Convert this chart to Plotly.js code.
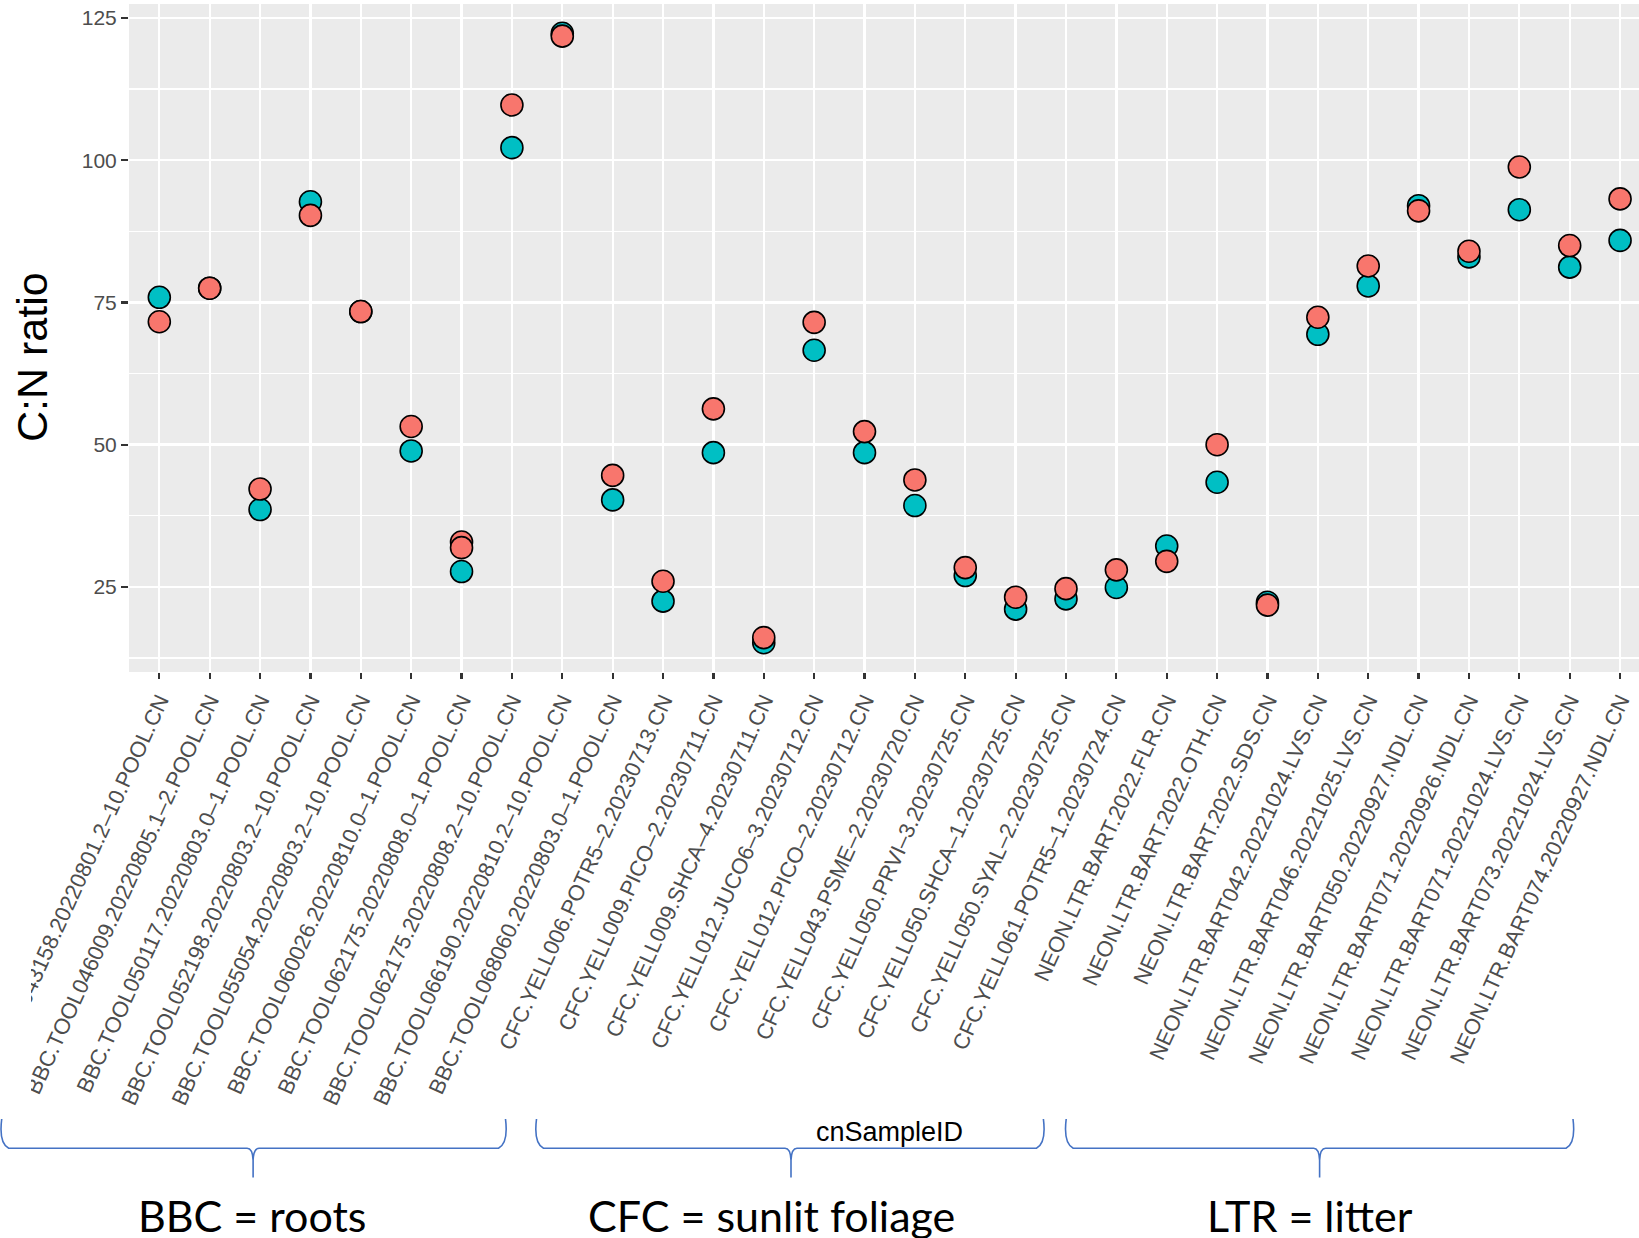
<!DOCTYPE html>
<html>
<head>
<meta charset="utf-8">
<script src="https://cdn.plot.ly/plotly-3.0.1.min.js"></script>
<style>
  html, body { margin: 0; padding: 0; background: #ffffff; }
  #chart { width: 1639px; height: 1238px; }
</style>
</head>
<body>
<div id="chart"></div>
<script>
// ---------- data ----------
const categories = [
  "BBC.TOOL043158.20220801.2–10.POOL.CN",
  "BBC.TOOL046009.20220805.1–2.POOL.CN",
  "BBC.TOOL050117.20220803.0–1.POOL.CN",
  "BBC.TOOL052198.20220803.2–10.POOL.CN",
  "BBC.TOOL055054.20220803.2–10.POOL.CN",
  "BBC.TOOL060026.20220810.0–1.POOL.CN",
  "BBC.TOOL062175.20220808.0–1.POOL.CN",
  "BBC.TOOL062175.20220808.2–10.POOL.CN",
  "BBC.TOOL066190.20220810.2–10.POOL.CN",
  "BBC.TOOL068060.20220803.0–1.POOL.CN",
  "CFC.YELL006.POTR5–2.20230713.CN",
  "CFC.YELL009.PICO–2.20230711.CN",
  "CFC.YELL009.SHCA–4.20230711.CN",
  "CFC.YELL012.JUCO6–3.20230712.CN",
  "CFC.YELL012.PICO–2.20230712.CN",
  "CFC.YELL043.PSME–2.20230720.CN",
  "CFC.YELL050.PRVI–3.20230725.CN",
  "CFC.YELL050.SHCA–1.20230725.CN",
  "CFC.YELL050.SYAL–2.20230725.CN",
  "CFC.YELL061.POTR5–1.20230724.CN",
  "NEON.LTR.BART.2022.FLR.CN",
  "NEON.LTR.BART.2022.OTH.CN",
  "NEON.LTR.BART.2022.SDS.CN",
  "NEON.LTR.BART042.20221024.LVS.CN",
  "NEON.LTR.BART046.20221025.LVS.CN",
  "NEON.LTR.BART050.20220927.NDL.CN",
  "NEON.LTR.BART071.20220926.NDL.CN",
  "NEON.LTR.BART071.20221024.LVS.CN",
  "NEON.LTR.BART073.20221024.LVS.CN",
  "NEON.LTR.BART074.20220927.NDL.CN"
];

const tealValues = [
  75.9, 77.5, 38.6, 92.7, 73.4, 48.9, 27.7, 102.2, 122.3, 40.3,
  22.5, 48.6, 15.2, 66.6, 48.6, 39.3, 27.0, 21.1, 22.9, 24.9,
  32.2, 43.4, 22.3, 69.4, 77.9, 92.0, 83.0, 91.3, 81.2, 85.9
];

const salmonValues = [
  71.6, 77.5, 42.2, 90.3, 73.4, 53.2, 31.9, 109.7, 121.8, 44.6,
  26.0, 56.3, 16.1, 71.5, 52.3, 43.8, 28.4, 23.2, 24.7, 28.0,
  29.5, 50.0, 21.8, 72.4, 81.4, 91.1, 84.0, 98.8, 85.0, 93.2
];

// a second salmon reading for one sample
const salmonExtraCats = ["BBC.TOOL062175.20220808.0–1.POOL.CN"];
const salmonExtraValues = [32.9];

const yTicks = [25, 50, 75, 100, 125];

const groupLabels = ["BBC = roots", "CFC = sunlit foliage", "LTR = litter"];

// ---------- geometry helpers (pixel -> paper) ----------
const L = 129, T = 4, W = 1510, H = 668;
const fx = px => (px - L) / W;
const fy = py => (T + H - py) / H;
const pt = (x, y) => fx(x).toFixed(5) + "," + fy(y).toFixed(5);

function bracePath(x0, x1, xc, yTop, yH, yTip) {
  const r = 7;
  return "M" + pt(x0, yTop) +
    " C" + pt(x0 - 1.5, yTop + 12) + " " + pt(x0 - 1, yH - 4) + " " + pt(x0 + r, yH) +
    " L" + pt(xc - 6, yH) +
    " Q" + pt(xc - 0.5, yH) + " " + pt(xc, yH + 12) +
    " L" + pt(xc, yTip) +
    " M" + pt(xc, yH + 12) +
    " Q" + pt(xc + 0.5, yH) + " " + pt(xc + 6, yH) +
    " L" + pt(x1 - r, yH) +
    " C" + pt(x1 + 1, yH - 4) + " " + pt(x1 + 1.5, yTop + 12) + " " + pt(x1, yTop);
}

const braceColor = "#4472C4";
const braces = [
  [1.7, 505.5, 253.1],
  [536.5, 1043.4, 791.0],
  [1066.2, 1573.0, 1319.6]
];
const groupCenters = [252.2, 771.4, 1309.5];

const shapes = braces.map(b => ({
  type: "path", xref: "paper", yref: "paper", layer: "above",
  path: bracePath(b[0], b[1], b[2], 1119, 1148.2, 1177.5),
  line: { color: braceColor, width: 1.6 }
}));
// left crop of the original figure
shapes.push({
  type: "rect", xref: "paper", yref: "paper", layer: "above",
  x0: fx(-5), x1: fx(31), y0: fy(1108), y1: fy(676),
  fillcolor: "#ffffff", line: { width: 0 }
});

const annotations = [
  {
    text: "C:N ratio", xref: "paper", yref: "paper", x: fx(32), y: fy(357),
    xanchor: "center", yanchor: "middle", showarrow: false, textangle: -90,
    font: { family: "Liberation Sans, Arial, sans-serif", size: 43, color: "#000000" }
  },
  {
    text: "cnSampleID", xref: "paper", yref: "paper", x: fx(889.7), y: fy(1132),
    xanchor: "center", yanchor: "middle", showarrow: false,
    font: { family: "Liberation Sans, Arial, sans-serif", size: 27, color: "#000000" }
  }
];
groupLabels.forEach((g, i) => annotations.push({
  text: g, xref: "paper", yref: "paper", x: fx(groupCenters[i]), y: fy(1215),
  xanchor: "center", yanchor: "middle", showarrow: false,
  font: { family: "Lato, Carlito, Calibri, sans-serif", size: 43, color: "#000000" }
}));

const markerBase = { size: 22, line: { color: "#000000", width: 1.6 } };

const traces = [
  {
    type: "scatter", mode: "markers", x: categories, y: tealValues,
    marker: Object.assign({}, markerBase, { color: "#00BFC4" }),
    showlegend: false, hoverinfo: "x+y"
  },
  {
    type: "scatter", mode: "markers", x: salmonExtraCats, y: salmonExtraValues,
    marker: Object.assign({}, markerBase, { color: "#F8766D" }),
    showlegend: false, hoverinfo: "x+y"
  },
  {
    type: "scatter", mode: "markers", x: categories, y: salmonValues,
    marker: Object.assign({}, markerBase, { color: "#F8766D" }),
    showlegend: false, hoverinfo: "x+y"
  }
];

const yTickFont = { family: "Liberation Sans, Arial, sans-serif", size: 21, color: "#4D4D4D" };
const xTickFont = { family: "Liberation Sans, Arial, sans-serif", size: 22, color: "#4D4D4D" };

const layout = {
  width: 1639, height: 1238,
  margin: { l: L, r: 1639 - L - W, t: T, b: 1238 - T - H, pad: 0 },
  paper_bgcolor: "#ffffff",
  plot_bgcolor: "#EBEBEB",
  showlegend: false,
  xaxis: {
    type: "category",
    categoryorder: "array", categoryarray: categories,
    range: [-0.602, 29.376],
    tickmode: "array", tickvals: categories, ticktext: categories,
    tickangle: -65.5,
    tickfont: xTickFont,
    ticks: "outside", ticklen: 6, tickwidth: 2.2, tickcolor: "#333333",
    showgrid: true, gridcolor: "#ffffff", gridwidth: 2.3,
    zeroline: false, showline: false, automargin: false, fixedrange: true
  },
  yaxis: {
    range: [10.05, 127.45],
    tickmode: "array", tickvals: yTicks, ticktext: yTicks.map(String),
    tickfont: yTickFont,
    ticks: "outside", ticklen: 7, tickwidth: 2.2, tickcolor: "#333333",
    showgrid: true, gridcolor: "#ffffff", gridwidth: 2.6,
    minor: { tickmode: "linear", tick0: 12.5, dtick: 25, showgrid: true,
             gridcolor: "#ffffff", gridwidth: 1.3, ticks: "" },
    zeroline: false, showline: false, automargin: false, fixedrange: true
  },
  shapes: shapes,
  annotations: annotations
};

Plotly.newPlot("chart", traces, layout, { displayModeBar: false, staticPlot: true });
</script>
</body>
</html>
